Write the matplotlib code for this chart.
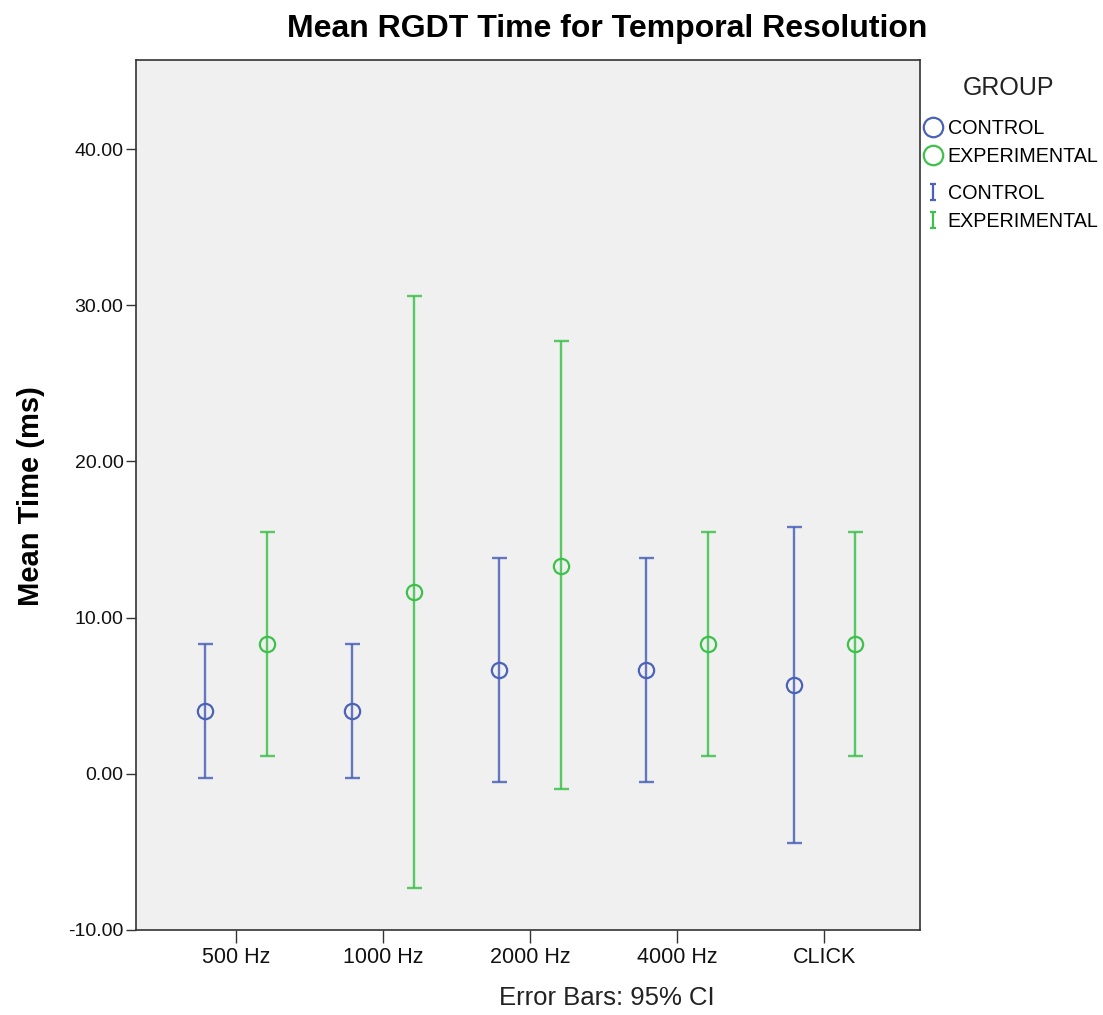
import matplotlib
matplotlib.use("Agg")
import matplotlib.pyplot as plt
from matplotlib.lines import Line2D
from matplotlib.path import Path
import numpy as np

plt.rcParams['font.family'] = ['Liberation Sans', 'DejaVu Sans']

categories = ["500 Hz", "1000 Hz", "2000 Hz", "4000 Hz", "CLICK"]
control_mean = [4.0, 4.0, 6.67, 6.67, 5.67]
control_low = [-0.3, -0.3, -0.5, -0.5, -4.4]
control_high = [8.3, 8.3, 13.8, 13.8, 15.8]
exp_mean = [8.33, 11.67, 13.33, 8.33, 8.33]
exp_low = [1.15, -7.3, -1.0, 1.15, 1.15]
exp_high = [15.5, 30.6, 27.7, 15.5, 15.5]
yticks = [-10, 0, 10, 20, 30, 40]
group_names = ["CONTROL", "EXPERIMENTAL"]

blue = '#4a62b8'
green = '#3cc24a'

fig = plt.figure(figsize=(11.03, 10.15), dpi=100)
ax = fig.add_axes([136/1103, 1-930/1015, (920-136)/1103, (930-60)/1015])
ax.set_facecolor('#f0f0f0')

x = np.arange(len(categories))
off = 0.21

def draw(xs, mean, low, high, color):
    mean = np.array(mean); low = np.array(low); high = np.array(high)
    ax.errorbar(xs, mean, yerr=[mean - low, high - mean], fmt='none',
                ecolor=color, elinewidth=1.7, capsize=5.4, capthick=1.7, alpha=0.85)
    ax.plot(xs, mean, 'o', ms=11, mfc='none', mec=color, mew=1.6)

draw(x - off, control_mean, control_low, control_high, blue)
draw(x + off, exp_mean, exp_low, exp_high, green)

ax.set_xlim(-0.68, 4.65)
ax.set_ylim(-10, 45.7)
ax.set_yticks(yticks)
ax.set_yticklabels([f"{v:.2f}" for v in yticks], fontsize=14)
ax.set_xticks(x)
ax.set_xticklabels(categories, fontsize=15.5)
ax.tick_params(axis='y', direction='out', length=7, width=1, pad=2,
               colors='#333333', labelcolor='#111111')
ax.tick_params(axis='x', direction='out', length=9, width=1, pad=3,
               colors='#333333', labelcolor='#111111')
for s in ax.spines.values():
    s.set_color('#333333'); s.set_linewidth(1.2)

ax.set_xlabel("Error Bars: 95% CI", fontsize=18.5, color='#222222')
ax.xaxis.set_label_coords((607-136)/784, -0.064)

fig.text(31/1103, 1-496/1015, "Mean Time (ms)", rotation=90, ha='center', va='center',
         fontsize=21, fontweight='bold')

fig.text(607/1103, 1-37/1015, "Mean RGDT Time for Temporal Resolution",
         ha='center', va='baseline', fontsize=23, fontweight='bold')

# legend
fig.text(1009/1103, 1-88/1015, "GROUP", ha='center', va='center', fontsize=18,
         color='#222222')
ibeam = Path([(-0.4, 1), (0.4, 1), (0, 1), (0, -1), (-0.4, -1), (0.4, -1)],
             [Path.MOVETO, Path.LINETO, Path.MOVETO, Path.LINETO, Path.MOVETO, Path.LINETO])
h1 = [Line2D([], [], marker='o', ls='none', mfc='none', mec=c, ms=14, mew=1.6)
      for c in (blue, green)]
h2 = [Line2D([], [], marker=ibeam, ls='none', mfc='none', mec=c, ms=12, mew=1.6)
      for c in (blue, green)]
leg1 = fig.legend(h1, group_names, loc='upper left', bbox_to_anchor=(924/1103, 1-119/1015),
                  frameon=False, fontsize=14.2,
                  handlelength=0.9, handletextpad=0.3, labelspacing=0.45, borderaxespad=0,
                  borderpad=0)
leg2 = fig.legend(h2, group_names, loc='upper left', bbox_to_anchor=(924/1103, 1-184/1015),
                  frameon=False, fontsize=14.2,
                  handlelength=0.9, handletextpad=0.3, labelspacing=0.45, borderaxespad=0,
                  borderpad=0)

fig.savefig("out.png", dpi=100)
